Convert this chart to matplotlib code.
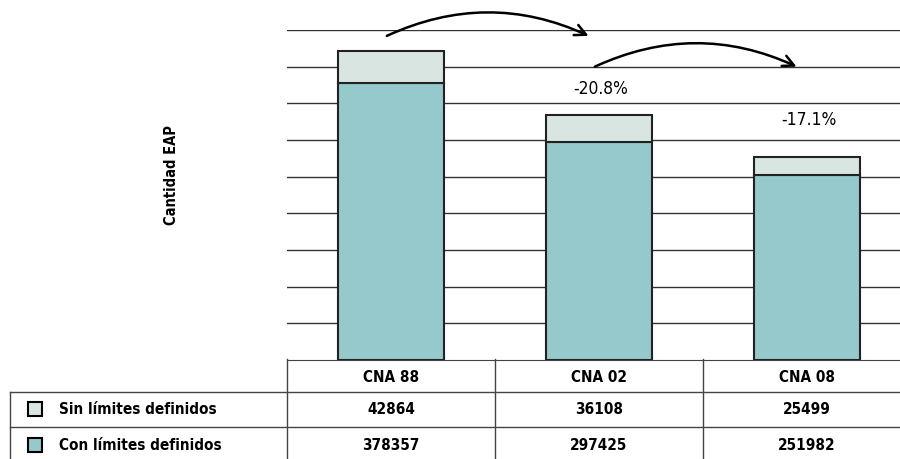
import matplotlib
matplotlib.use('Agg')
import matplotlib.pyplot as plt
import matplotlib.transforms as mtransforms
from matplotlib.patches import Rectangle

categories = ['CNA 88', 'CNA 02', 'CNA 08']
sin_limites = [42864, 36108, 25499]
con_limites = [378357, 297425, 251982]
series_names = ['Sin límites definidos', 'Con límites definidos']
cambios = ['-20.8%', '-17.1%']

plt.rcParams['font.family'] = ['DejaVu Sans']
plt.rcParams['font.stretch'] = 'condensed'

W, H = 900, 460
fig = plt.figure(figsize=(W/100, H/100), dpi=100)

def fx(px):
    return px/W

def fy(py):
    return 1-py/H

c_sin = '#d8e5e1'
c_con = '#95c9cc'
edge = '#222222'
line = '#444444'

# plot area: left 287px, bottom 361px, top (450000) at 31px
ax = fig.add_axes([fx(287), fy(361), fx(900)-fx(287), (361-31)/H])
x = list(range(len(categories)))
ax.set_xlim(-0.5, (900-287)/208-0.5)
ax.set_ylim(0, 450000)
for v in range(50000, 450001, 50000):
    ax.axhline(v, color='#333333', lw=1, zorder=1)
ax.bar(x, con_limites, width=0.51, color=c_con, edgecolor=edge, lw=1.5, zorder=3)
ax.bar(x, sin_limites, width=0.51, bottom=con_limites, color=c_sin, edgecolor=edge, lw=1.5, zorder=3)
for s in ['left', 'right', 'top']:
    ax.spines[s].set_visible(False)
ax.spines['bottom'].set_color(line)
ax.set_xticks([])
ax.set_yticks([])

# curved arrows between bars with percentage change
arrow_y = [442000, 400000]
for i, lab in enumerate(cambios):
    ax.annotate('', xy=(i+0.95, arrow_y[i]), xytext=(i-0.02, arrow_y[i]),
                arrowprops=dict(arrowstyle='->,head_length=0.8,head_width=0.4', color='black', lw=1.8,
                                connectionstyle='arc3,rad=-0.23', shrinkA=0, shrinkB=0),
                annotation_clip=False)
    ax.text(i+1.01, arrow_y[i]-71000, lab, ha='center', va='center', fontsize=12.5)

fig.text(fx(172), fy(175), 'Cantidad EAP', rotation=90, ha='center', va='center',
         fontsize=10.5, fontweight='bold')

# data table under the chart
bt = mtransforms.blended_transform_factory(ax.transData, fig.transFigure)
ft = fig.transFigure
for py in [393, 428]:
    fig.add_artist(plt.Line2D([fx(10), 1], [fy(py), fy(py)], color=line, lw=1))
fig.add_artist(plt.Line2D([fx(10), fx(10)], [fy(393), 0], color=line, lw=1))
fig.add_artist(plt.Line2D([fx(287), fx(287)], [fy(360), 0], color=line, lw=1))
for b in [0.5, 1.5]:
    fig.add_artist(plt.Line2D([b, b], [fy(360), 0], color=line, lw=1, transform=bt))

rows = [sin_limites, con_limites]
row_y = [410, 446]
colors = [c_sin, c_con]
for i, cat in enumerate(categories):
    fig.text(i, fy(377), cat, transform=bt, ha='center', va='center', fontsize=11, fontweight='bold')
    for r, vals in enumerate(rows):
        fig.text(i, fy(row_y[r]), str(vals[i]), transform=bt, ha='center', va='center',
                 fontsize=11, fontweight='bold')
for r, name in enumerate(series_names):
    fig.add_artist(Rectangle((fx(28), fy(row_y[r]+7)), fx(14), 14/H, facecolor=colors[r],
                             edgecolor='black', lw=1.5, transform=ft))
    fig.text(fx(59), fy(row_y[r]), name, ha='left', va='center', fontsize=11, fontweight='bold')

fig.savefig('out.png', dpi=100)
